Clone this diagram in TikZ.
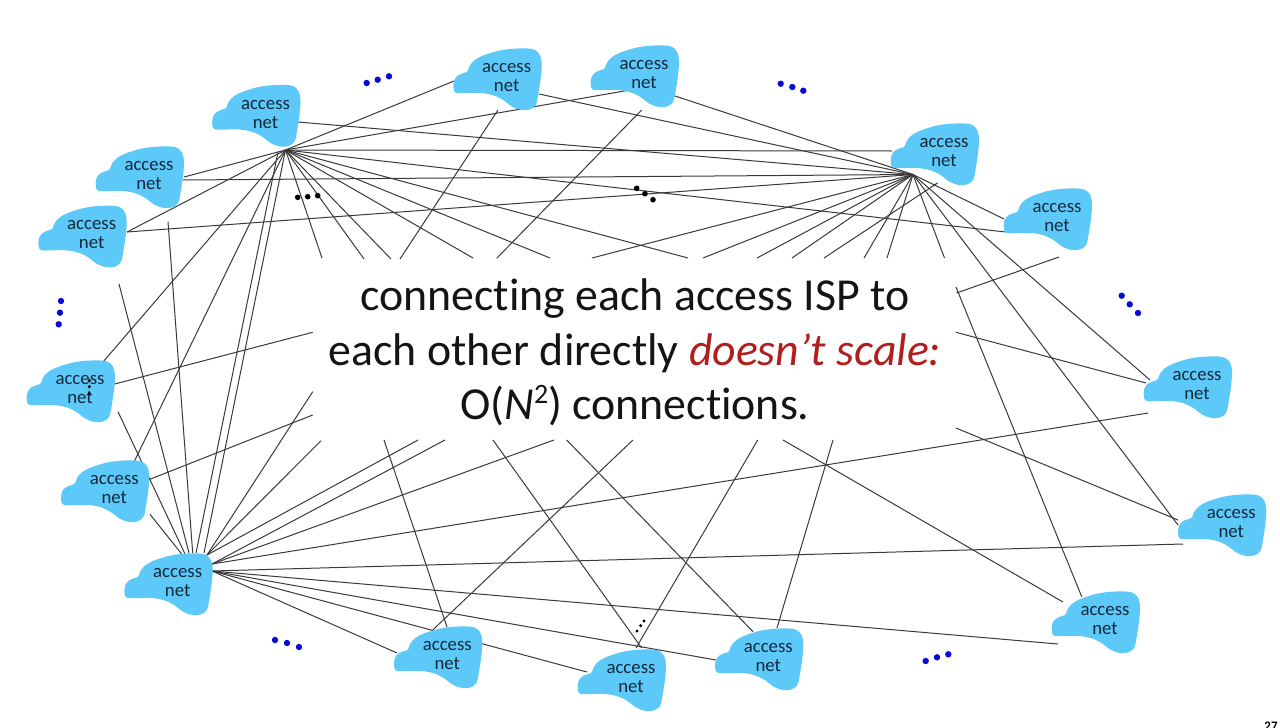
\documentclass[tikz,border=0pt]{standalone}
\usepackage{fontspec}
\setmainfont[Ligatures={NoCommon}]{Carlito}
\usetikzlibrary{backgrounds}
\definecolor{netblue}{HTML}{5CC9F9}
\definecolor{nettext}{HTML}{14283C}
\definecolor{linkgray}{HTML}{3A3A3A}
\definecolor{scalered}{HTML}{B01E1E}
\definecolor{dotblue}{HTML}{0A0AD2}
\tikzset{
  link/.style={draw=linkgray,line width=0.5pt},
  netlabel/.style={text=nettext,font=\fontsize{9.4}{9.5}\selectfont,align=center,inner sep=0pt},
  dotblack/.style={fill=black,draw=none,circle,inner sep=0pt,minimum size=2.8pt},
  dotb/.style={fill=dotblue,draw=none,circle,inner sep=0pt,minimum size=3.2pt},
  dotsmall/.style={fill=black,draw=none,circle,inner sep=0pt,minimum size=1.7pt},
  netcloud/.pic={
    \fill[netblue] (-53.3,9)
      .. controls (-53.3,3) and (-50,-1) .. (-44.5,-2.5)
      .. controls (-41,-3.5) and (-39.5,-4) .. (-39,-5)
      .. controls (-37,-14) and (-30,-19) .. (-16,-23)
      .. controls (-5,-27) and (10,-28) .. (21,-27.5)
      .. controls (32.7,-27.5) and (35.3,-19.2) .. (35,-9.2)
      .. controls (34.3,4.2) and (32,15.8) .. (30.3,25.8)
      .. controls (28.3,35.8) and (12.7,37.5) .. (1,27.5)
      .. controls (-7.3,20.2) and (-17.3,16.8) .. (-32.3,16.8)
      .. controls (-40,17) and (-48,17.5) .. (-50,17)
      .. controls (-53,16.5) and (-53.3,13) .. (-53.3,9) -- cycle;
  }
}
\begin{document}
\begin{tikzpicture}[x=0.5pt,y=-0.5pt]
\path[use as bounding box] (0,0) rectangle (1280,728);
\clip (0,0) rectangle (1280,728);
% access networks
\foreach \cx/\cy [count=\i] in {265.5/112.5,149/174,91.7/233.3,506.7/76,644/73,944/151,1057/216,1197/384,80/388,114.3/488,177.7/581,447.3/654,631/677,768.3/656,1105/619,1231.3/522}{
  \pic at (\cx,\cy) {netcloud};
  \node[netlabel,yshift=-0.8pt] (net\i) at (\cx,\cy) {access\\net};
}
% hubs where the fans of connectors meet
\coordinate (hubA) at (285.5,150);
\coordinate (hubAb) at (278,152);
\coordinate (hubB) at (913,174.5);
\coordinate (hubCu) at (207,555);
\coordinate (hubCm) at (212,564);
\coordinate (hubCr) at (212,571);
\begin{pgfonlayer}{background}
\fill[white] (0,0) rectangle (1280,728);
\foreach \x/\y [count=\i] in {184/177,127/232,103/362,134/462,204/553,322/258,364/259,391/259,473/258,550/258,688/258,1005.5/232,892/151,454/81,630/90}{
  \coordinate (a\i) at (\x,\y);
  \draw[link] (hubA) -- (a\i);
}
\coordinate (ab1) at (196,553);
\draw[link] (hubAb) -- (ab1);
\foreach \x/\y [count=\i] in {298/122,183/180,127/232,539/94,675/96,592/258,703/258,757/258,792/258,864/258,887/258,944.5/258,1004/219,1178/525,1150/380}{
  \coordinate (b\i) at (\x,\y);
  \draw[link] (hubB) -- (b\i);
}
\foreach \x/\y [count=\i] in {181.7/554,185/554,189/553,192.7/553,312.7/391.7,321/440.7,418/440}{
  \coordinate (cu\i) at (\x,\y);
}
\coordinate (lu1) at (150,514.3); \coordinate (lu2) at (118,411.7);
\coordinate (lu3) at (119,284); \coordinate (lu4) at (168,221.7);
\draw[link] (lu1) -- (cu1);
\draw[link] (lu2) -- (cu2);
\draw[link] (lu3) -- (cu3);
\draw[link] (lu4) -- (cu4);
\draw[link] (hubCu) -- (cu5);
\draw[link] (hubCu) -- (cu6);
\draw[link] (hubCu) -- (cu7);
\foreach \x/\y [count=\i] in {445/440,554/440,1148/413}{
  \coordinate (cm\i) at (\x,\y);
  \draw[link] (hubCm) -- (cm\i);
}
\foreach \x/\y [count=\i] in {1183/544,1058/644,716/660,587/672,397/653}{
  \coordinate (cr\i) at (\x,\y);
  \draw[link] (hubCr) -- (cr\i);
}
% connectors with two free ends
\foreach \xa/\ya/\xb/\yb [count=\i] in {
  400/259/498/110,
  496.7/258.3/641.7/110,
  937.5/183/824/258,
  1059/257/956.5/293,
  956/287/1081.7/596.7,
  956/332.3/1146/383,
  956/428/1178/520,
  783/440/1063/602,
  833/440/777/628,
  757.7/440/636/648,
  566.7/440/753/631.7,
  493/440/641.7/648,
  633/440/432.7/630,
  384/440/447/627,
  113.5/384.3/312.7/332.3,
  148/480/312.7/415}{
  \coordinate (fa\i) at (\xa,\ya);
  \coordinate (fb\i) at (\xb,\yb);
  \draw[link] (fa\i) -- (fb\i);
}
\end{pgfonlayer}
% main text
\node[font=\fontsize{22.9}{27.2}\selectfont,align=center,inner sep=0pt,text=black!92] (maintext) at (635,352.5)
  {connecting each access ISP to\\
   each other directly {\itshape\color{scalered}doesn’t scale:}\\
   O({\itshape N}\raisebox{0.72ex}{\fontsize{14}{14}\selectfont 2}) connections.};
% blue ellipses
\foreach \x/\y [count=\i] in {366.7/83,377.7/79.7,389/76.3,780.7/83.7,792.3/87,803.3/90.7,1121.7/295.7,1129.7/304.3,1138/313,61/301,60/312.7,58.7/324.3,275/640,287/643,299/647,925.7/661,937/657.3,948.3/654.3}{
  \node[dotb] (bd\i) at (\x,\y) {};
}
% black ellipses
\foreach \x/\y [count=\i] in {297.7/197.3,307.7/196.7,317.7/195.7,636.7/188.3,645/193.7,653/199.7}{
  \node[dotblack] (kd\i) at (\x,\y) {};
}
\foreach \x/\y [count=\i] in {644/621,640.7/625.7,637/631,89.3/380.7,89.3/386.7,89.3/393.3}{
  \node[dotsmall] (sd\i) at (\x,\y) {};
}
\node[font=\bfseries\fontsize{6.5}{7}\selectfont,inner sep=0pt,anchor=north east,text=black] (pagenum) at (1278,722) {27};
\end{tikzpicture}
\end{document}
